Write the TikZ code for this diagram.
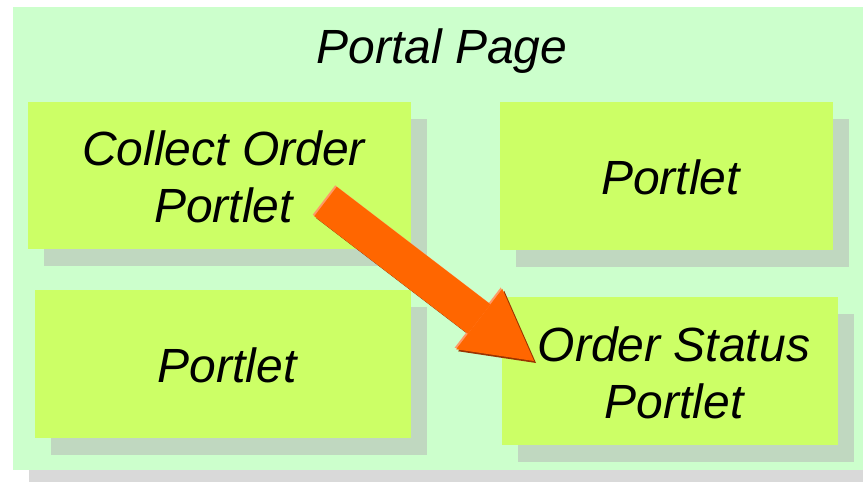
\documentclass[tikz,border=0pt]{standalone}
\usepackage{fontspec}
\setmainfont{Liberation Sans}
\usetikzlibrary{shadows,arrows.meta}
\definecolor{pagegreen}{HTML}{CCFFCC}
\definecolor{boxgreen}{HTML}{CCFF66}
\definecolor{boxshadow}{HTML}{C0D8C0}
\definecolor{pageshadow}{HTML}{D9D9D9}
\definecolor{arroworange}{HTML}{FF6600}
\definecolor{arrowdark}{HTML}{993300}
\definecolor{arrowlight}{HTML}{FF9966}
\tikzset{
  pagebox/.style={draw=none, fill=pagegreen, inner sep=0pt, anchor=north west,
    drop shadow={shadow xshift=16pt, shadow yshift=-16pt, fill=pageshadow, opacity=1}},
  portlet/.style={draw=none, fill=boxgreen, inner sep=0pt, minimum height=148pt,
    drop shadow={shadow xshift=16pt, shadow yshift=-17pt, fill=boxshadow, opacity=1}},
  portlettext/.style={inner sep=0pt, align=center, xshift=4pt, yshift=-1.5pt,
    font=\fontsize{48}{57}\selectfont\itshape, text=black},
  pagetitle/.style={font=\fontsize{48}{57}\selectfont\itshape, anchor=base, inner sep=0pt},
  bigarrow/.style={line width=37pt, line cap=butt,
    -{Triangle[width=76pt,length=69pt,line width=0pt]}},
}
\begin{document}
\begin{tikzpicture}[x=1pt,y=-1pt]
\useasboundingbox (0,0) rectangle (863,482);
\node[pagebox, minimum width=850pt, minimum height=463pt] (page) at (13,7) {};
\node[pagetitle] (title) at (442,63) {Portal Page};
\node[portlet, minimum width=383pt, minimum height=147pt,
  label={[portlettext]center:Collect Order\\Portlet}] (collect) at (219.5,175.5) {};
\node[portlet, minimum width=333pt,
  label={[portlettext]center:Portlet}] (portletA) at (666.5,176) {};
\node[portlet, minimum width=376pt,
  label={[portlettext]center:Portlet}] (portletB) at (223,364) {};
\node[portlet, minimum width=336pt,
  label={[portlettext]center:Order Status\\Portlet}] (status) at (670,371) {};
\coordinate (atail) at (325.5,201.5);
\coordinate (atip) at (534,361);
\draw[bigarrow, arrowdark] ([shift={(2pt,-2pt)}]atail) -- ([shift={(2pt,-2pt)}]atip);
\draw[bigarrow, arrowlight] ([shift={(-1.5pt,1.5pt)}]atail) -- ([shift={(-1.5pt,1.5pt)}]atip);
\draw[bigarrow, arroworange] (atail) -- (atip);
\end{tikzpicture}
\end{document}
